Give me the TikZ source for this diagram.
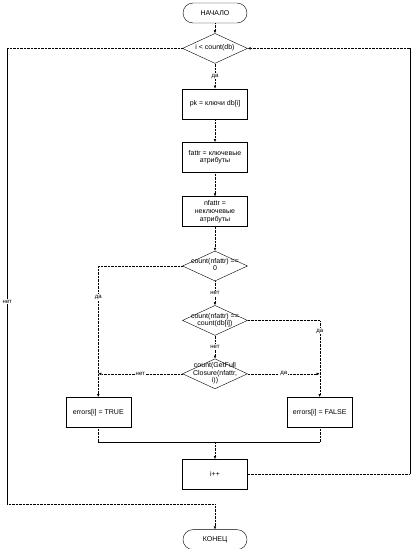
\documentclass[tikz,border=0pt]{standalone}
\usepackage{fontspec}
\setmainfont{Liberation Sans}
\usepackage{tikz}
\usetikzlibrary{arrows.meta,positioning,shapes.geometric}

% text of a decision, allowed to run over the diamond
\newcommand{\dtxt}[1]{\makebox[0pt]{\smash{\raisebox{-1.5pt}{\renewcommand{\arraystretch}{0.9}\begin{tabular}{@{}c@{}}#1\end{tabular}}}}}

\begin{document}
\begin{tikzpicture}[
x=1pt, y=-1pt,
font=\fontsize{7}{7.8}\selectfont,
term/.style={draw, rounded corners=10pt, minimum width=64pt, minimum height=20pt, inner sep=0pt},
proc/.style={draw, align=center, minimum width=65pt, minimum height=30pt, inner sep=1pt},
decision/.style={draw, diamond, minimum width=65pt, minimum height=30pt, inner sep=0pt},
lbl/.style={fill=white, inner sep=1pt, font=\fontsize{6}{7}\selectfont},
link/.style={densely dotted},
arrow/.style={-{Latex[length=3pt,width=2.6pt]}, densely dotted}
]
\useasboundingbox (0,0) rectangle (411,549);

\node[term] (start) at (215,13) {НАЧАЛО};
\node[decision, below=10pt of start] (loop) {\dtxt{i < count(db)}};
\node[proc, below=25pt of loop] (pk) {pk = ключи db[i]};
\node[proc, below=23pt of pk] (fattr) {fattr = ключевые\\атрибуты};
\node[proc, below=24pt of fattr] (nfattr) {nfattr =\\неключевые\\атрибуты};
\node[decision, below=24pt of nfattr] (empty) {\dtxt{count(nfattr) ==\\0}};
\node[decision, below=24pt of empty] (full) {\dtxt{count(nfattr) ==\\count(db[i])}};
\node[decision, below=23pt of full] (closure) {\dtxt{count(GetFull\\Closure(nfattr,\\i))}};
\node[proc, below left=8pt and 84pt of closure.south] (errT) {errors[i] = TRUE};
\node[proc, below right=8pt and 72pt of closure.south] (errF) {errors[i] = FALSE};
\node[proc, below=70pt of closure] (inc) {i++};
\node[term, below=40pt of inc] (end) {КОНЕЦ};

\coordinate (noJoin) at (errT.north |- closure.west);
\coordinate (yesJoin) at (errF.north |- closure.east);
\coordinate[above=17pt of inc.north] (merge);
\coordinate (mergeL) at (errT.south |- merge);
\coordinate (mergeR) at (errF.south |- merge);
\coordinate[right=162pt of inc.east] (backR);
\coordinate (backT) at (backR |- loop.east);
\coordinate[left=175pt of loop.west] (exitT);
\coordinate[above=25pt of end.north] (exitB);
\coordinate (exitL) at (exitT |- exitB);

\draw[arrow] (start) -- (loop);
\draw[arrow] (loop) -- node[lbl]{да} (pk);
\draw[arrow] (pk) -- (fattr);
\draw[arrow] (fattr) -- (nfattr);
\draw[arrow] (nfattr) -- (empty);
\draw[arrow] (empty.west) -| node[lbl, pos=0.62]{да} (errT.north);
\draw[arrow] (empty) -- node[lbl]{нет} (full);
\draw[arrow] (full.east) -| node[lbl, pos=0.57]{да} (errF.north);
\draw[arrow] (full) -- node[lbl]{нет} (closure);
\draw[arrow] (closure.west) -- node[lbl]{нет} (noJoin);
\draw[arrow] (closure.east) -- node[lbl]{да} (yesJoin);

% merge under the two results
\draw[link] (errT.south) -- (mergeL);
\draw[link] (errF.south) -- (mergeR);
\draw (mergeL) -- (mergeR);
\draw[arrow] (merge) -- (inc);

% back to the loop test
\draw[link] (inc.east) -- (backR);
\draw (backR) -- (backT);
\draw[arrow] (backT) -- (loop.east);

% leave the loop
\draw[link] (loop.west) -- (exitT);
\draw (exitT) -- node[lbl, pos=0.555]{нет} (exitL);
\draw[link] (exitL) -- (exitB);
\draw[arrow] (exitB) -- (end);
\end{tikzpicture}
\end{document}
